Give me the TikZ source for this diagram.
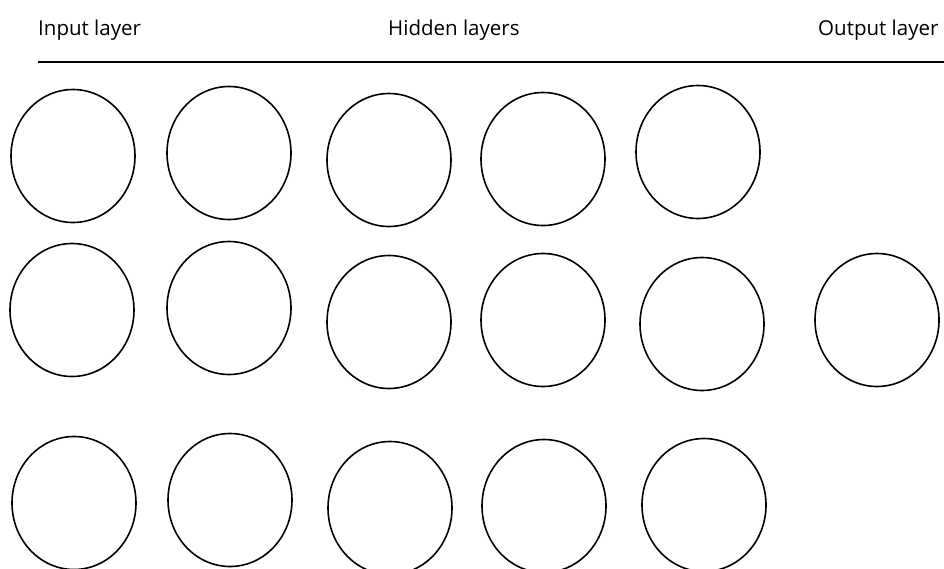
\documentclass[tikz,border=0pt]{standalone}
\usepackage{fontspec}
\setmainfont{Open Sans}
\usetikzlibrary{shapes.geometric}
\tikzset{
  neuron/.style={ellipse,draw,line width=1.6pt,minimum width=124pt,minimum height=133pt,inner sep=0pt},
  layerlabel/.style={anchor=base west,inner sep=0pt,font=\fontsize{20.5}{24}\selectfont}
}

\begin{document}
\begin{tikzpicture}[x=1pt,y=-1pt]
  \useasboundingbox (0,0) rectangle (944,568);
  % layer titles and rule
  \node[layerlabel] (inlbl) at (38,35) {Input layer};
  \node[layerlabel] (hidlbl) at (388,35) {Hidden layers};
  \node[layerlabel] (outlbl) at (818,35) {Output layer};
  \coordinate (rulestart) at (38,62);
  \coordinate (ruleend) at (944,62);
  \draw[line width=1.6pt] (rulestart) -- (ruleend);
  % neurons
  \foreach \nm/\px/\py in {
      in1/73/156, hida1/229/153, hidb1/389/160, hidc1/543/159, hidd1/698/152,
      in2/72/310, hida2/229/308, hidb2/389/322, hidc2/543/320, hidd2/702/324,
      out/877/320,
      in3/74/503, hida3/230/500, hidb3/390/508, hidc3/544/506, hidd3/704/505}
    \node[neuron] (\nm) at (\px,\py) {};
\end{tikzpicture}
\end{document}
